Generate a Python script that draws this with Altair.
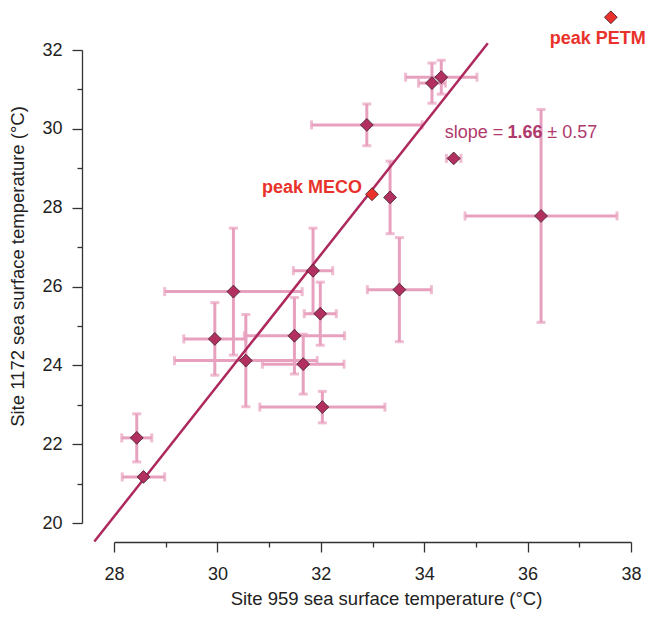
import altair as alt
import pandas as pd

# Site 959 (x) and Site 1172 (y) sea surface temperatures, with 1-sigma errors
x_val = [28.57, 28.44, 29.95, 30.31, 30.55, 31.49, 31.66, 31.85, 31.99, 32.03,
         33.52, 33.34, 32.89, 34.15, 34.33, 34.57, 36.26]
y_val = [21.17, 22.16, 24.67, 25.87, 24.12, 24.75, 24.03, 26.40, 25.31, 22.94,
         25.92, 28.26, 30.10, 31.16, 31.31, 29.25, 27.79]
x_err = [0.41, 0.29, 0.60, 1.33, 1.38, 0.97, 0.79, 0.38, 0.31, 1.21,
         0.62, None, 1.07, 0.26, 0.69, 0.14, 1.47]
y_err = [None, 0.61, 0.92, 1.61, 1.17, 0.97, 0.76, 1.08, 0.80, 0.40,
         1.32, 0.92, 0.53, 0.51, 0.43, None, 2.70]

peak_names = ["peak MECO", "peak PETM"]
peak_x = [32.99, 37.61]
peak_y = [28.34, 32.83]

line_x = [27.62, 35.23]
line_y = [19.53, 32.17]

slope_text = ["slope =", "1.66", "± 0.57"]
slope_weight = ["normal", "bold", "normal"]
slope_align = ["right", "left", "left"]
slope_x = [35.53, 35.61, 36.38]
slope_y = [29.90, 29.90, 29.90]

x_ticks = list(range(28, 39))
y_ticks = list(range(20, 33))

FONT = "Liberation Sans"
PINK = "#e8a0bf"
MAGENTA = "#b2305f"
LINE = "#ad285c"
RED = "#e8322b"
SLOPE_C = "#b03a6c"

pts = pd.DataFrame({"x": x_val, "y": y_val, "xe": x_err, "ye": y_err})
xb = pts.dropna(subset=["xe"]).copy()
xb["lo"] = xb["x"] - xb["xe"]
xb["hi"] = xb["x"] + xb["xe"]
yb = pts.dropna(subset=["ye"]).copy()
yb["lo"] = yb["y"] - yb["ye"]
yb["hi"] = yb["y"] + yb["ye"]
xcaps = pd.concat([pd.DataFrame({"cx": xb["lo"], "y": xb["y"]}),
                   pd.DataFrame({"cx": xb["hi"], "y": xb["y"]})])
ycaps = pd.concat([pd.DataFrame({"x": yb["x"], "cy": yb["lo"]}),
                   pd.DataFrame({"x": yb["x"], "cy": yb["hi"]})])
peaks = pd.DataFrame({"name": peak_names, "x": peak_x, "y": peak_y})
reg = pd.DataFrame({"x": line_x, "y": line_y})
slope_df = pd.DataFrame({"t": slope_text, "w": slope_weight, "a": slope_align,
                         "x": slope_x, "y": slope_y})

tick_cond = {"condition": {"test": "datum.value % 2 === 0", "value": 10}, "value": 5}
label_expr = "datum.value % 2 === 0 ? datum.label : ''"

xscale = alt.Scale(domain=[28, 38], nice=False, zero=False)
yscale = alt.Scale(domain=[20, 32], nice=False, zero=False)

common = dict(grid=False, labelFont=FONT, labelFontSize=18, titleFont=FONT, titleFontSize=18.5,
              titleFontWeight="normal", labelColor="#222", titleColor="#222",
              domainColor="#333", tickColor="#333", domainWidth=1.3, tickWidth=1.3,
              tickSize=tick_cond, labelExpr=label_expr, labelFlush=False,
              labelOverlap=False, labelBound=False)
xaxis = alt.Axis(values=x_ticks, offset=19, title="Site 959 sea surface temperature (°C)",
                 labelPadding=13, titlePadding=6, titleX=272, labelAngle=0, **common)
yaxis = alt.Axis(values=y_ticks, offset=32, title="Site 1172 sea surface temperature (°C)",
                 labelPadding=10, titlePadding=14, titleY=216, **common)

X = lambda f: alt.X(f, type="quantitative", scale=xscale, axis=xaxis)
Y = lambda f: alt.Y(f, type="quantitative", scale=yscale, axis=yaxis)

xbars = alt.Chart(xb).mark_rule(color=PINK, strokeWidth=3).encode(
    x=X("lo"), x2="hi", y=Y("y"))
xcap = alt.Chart(xcaps).mark_tick(color=PINK, orient="vertical", size=9, thickness=3).encode(
    x=X("cx"), y=Y("y"))
ybars = alt.Chart(yb).mark_rule(color=PINK, strokeWidth=3).encode(
    x=X("x"), y=Y("lo"), y2="hi")
ycap = alt.Chart(ycaps).mark_tick(color=PINK, orient="horizontal", size=9, thickness=3).encode(
    x=X("x"), y=Y("cy"))
line = alt.Chart(reg).mark_line(color=LINE, strokeWidth=2.5).encode(x=X("x"), y=Y("y"))
dots = alt.Chart(pts).mark_point(shape="diamond", filled=True, fill=MAGENTA, stroke="#3a1c28",
                                 strokeWidth=0.8, size=165, opacity=1).encode(x=X("x"), y=Y("y"))
pdots = alt.Chart(peaks).mark_point(shape="diamond", filled=True, fill=RED, stroke="#3a1c28",
                                    strokeWidth=0.8, size=165, opacity=1).encode(x=X("x"), y=Y("y"))

lab_meco = alt.Chart(peaks.iloc[[0]]).mark_text(
    font=FONT, fontSize=18, fontWeight="bold", color=RED, align="right", baseline="middle", dx=-10, dy=-6
).encode(x=X("x"), y=Y("y"), text="name")
lab_petm = alt.Chart(peaks.iloc[[1]]).mark_text(
    font=FONT, fontSize=18, fontWeight="bold", color=RED, align="right", baseline="middle", dx=35, dy=22
).encode(x=X("x"), y=Y("y"), text="name")

slope_n_r = alt.Chart(slope_df[(slope_df.w == "normal") & (slope_df.a == "right")]).mark_text(
    font=FONT, fontSize=18, color=SLOPE_C, align="right", baseline="middle"
).encode(x=X("x"), y=Y("y"), text="t")
slope_n_l = alt.Chart(slope_df[(slope_df.w == "normal") & (slope_df.a == "left")]).mark_text(
    font=FONT, fontSize=18, color=SLOPE_C, align="left", baseline="middle"
).encode(x=X("x"), y=Y("y"), text="t")
slope_b = alt.Chart(slope_df[slope_df.w == "bold"]).mark_text(
    font=FONT, fontSize=18, fontWeight="bold", color=SLOPE_C, align="left", baseline="middle"
).encode(x=X("x"), y=Y("y"), text="t")

chart = alt.layer(xbars, xcap, ybars, ycap, line, dots, pdots, lab_meco, lab_petm,
                  slope_n_r, slope_n_l, slope_b).properties(
    width=517, height=473,
    background="white",
    autosize=alt.AutoSizeParams(type="none"),
    padding={"left": 106, "top": 42, "right": 16, "bottom": 86},
).configure_view(stroke=None)

chart.save("out.html", embed_options={"renderer": "svg", "actions": False})
